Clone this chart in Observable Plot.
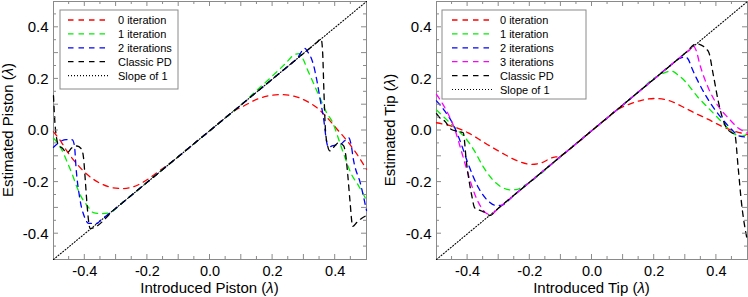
<!DOCTYPE html>
<html><head><meta charset="utf-8">
<script src="https://cdn.jsdelivr.net/npm/d3@7"></script>
<script src="https://cdn.jsdelivr.net/npm/@observablehq/plot@0.6"></script>
<style>
body{margin:0;background:#fff}
#wrap{display:flex;width:748px;height:297px}
svg{font-family:"Liberation Sans",Arial,Helvetica,sans-serif}
</style>
</head><body><div id="wrap"></div>
<script>
// ---- tick values / labels ----
const labelTicks = [-0.4, -0.2, 0, 0.2, 0.4];
const labelTickText = ["-0.4", "-0.2", "0.0", "0.2", "0.4"];
const majorTicks = [-0.4, -0.3, -0.2, -0.1, 0, 0.1, 0.2, 0.3, 0.4];
const minorTicks = [-0.45, -0.35, -0.25, -0.15, -0.05, 0.05, 0.15, 0.25, 0.35, 0.45];

// ---- reference line (slope of 1) ----
const slopeOne = [[-0.5, -0.5], [0.5, 0.5]];

// ---- Piston panel ----
const pistonIter0 = [[-0.5,-0.005],[-0.475,-0.045],[-0.457,-0.08],[-0.425,-0.13],[-0.393,-0.17],[-0.35,-0.205],[-0.31,-0.222],[-0.276,-0.225],[-0.244,-0.218],[-0.2,-0.19],[-0.16,-0.155],[-0.12,-0.12],[-0.06,-0.06],[0,0],[0.06,0.06],[0.08,0.078],[0.108,0.095],[0.14,0.116],[0.182,0.133],[0.225,0.139],[0.268,0.133],[0.31,0.113],[0.342,0.088],[0.374,0.05],[0.406,0.005],[0.438,-0.04],[0.47,-0.093],[0.5,-0.15]];
const pistonIter1 = [[-0.5,-0.03],[-0.48,-0.06],[-0.457,-0.12],[-0.44,-0.17],[-0.425,-0.22],[-0.41,-0.26],[-0.393,-0.29],[-0.373,-0.318],[-0.345,-0.322],[-0.325,-0.32],[-0.308,-0.31],[-0.28,-0.28],[-0.2,-0.2],[-0.1,-0.1],[0,0],[0.1,0.1],[0.15,0.156],[0.2,0.212],[0.24,0.258],[0.27,0.294],[0.285,0.298],[0.3,0.27],[0.31,0.24],[0.33,0.185],[0.35,0.13],[0.37,0.075],[0.394,0.025],[0.41,-0.03],[0.427,-0.09],[0.45,-0.165],[0.475,-0.215],[0.5,-0.27]];
const pistonIter2 = [[-0.5,-0.065],[-0.484,-0.048],[-0.46,-0.035],[-0.44,-0.036],[-0.433,-0.06],[-0.428,-0.144],[-0.415,-0.27],[-0.4,-0.338],[-0.388,-0.36],[-0.361,-0.36],[-0.35,-0.348],[-0.32,-0.32],[-0.2,-0.2],[-0.1,-0.1],[0,0],[0.1,0.1],[0.2,0.2],[0.26,0.26],[0.28,0.282],[0.295,0.31],[0.303,0.318],[0.312,0.305],[0.322,0.285],[0.33,0.257],[0.342,0.19],[0.352,0.12],[0.364,0.037],[0.372,-0.04],[0.378,-0.065],[0.39,-0.06],[0.405,-0.055],[0.417,-0.053],[0.43,-0.04],[0.443,-0.028],[0.45,-0.05],[0.459,-0.118],[0.481,-0.207],[0.5,-0.31]];
const pistonClassic = [[-0.5,0.135],[-0.496,0.04],[-0.49,-0.03],[-0.483,-0.06],[-0.473,-0.067],[-0.457,-0.086],[-0.441,-0.067],[-0.425,-0.06],[-0.41,-0.073],[-0.404,-0.106],[-0.398,-0.2],[-0.392,-0.3],[-0.383,-0.38],[-0.3,-0.3],[-0.2,-0.2],[-0.1,-0.1],[0,0],[0.1,0.1],[0.2,0.2],[0.3,0.3],[0.34,0.34],[0.355,0.355],[0.36,0.3],[0.364,0.15],[0.369,0.0],[0.376,-0.06],[0.383,-0.079],[0.395,-0.065],[0.411,-0.047],[0.427,-0.06],[0.433,-0.09],[0.44,-0.17],[0.447,-0.27],[0.456,-0.372],[0.47,-0.355],[0.485,-0.34],[0.5,-0.33]];

// ---- Tip panel ----
const tipIter0 = [[-0.5,0.03],[-0.452,0.017],[-0.398,-0.009],[-0.345,-0.048],[-0.291,-0.086],[-0.237,-0.119],[-0.195,-0.131],[-0.162,-0.125],[-0.13,-0.106],[-0.1,-0.098],[-0.08,-0.08],[0,0],[0.05,0.05],[0.073,0.074],[0.116,0.1],[0.159,0.117],[0.202,0.124],[0.245,0.117],[0.288,0.094],[0.33,0.068],[0.374,0.043],[0.416,0.017],[0.459,-0.003],[0.5,-0.015]];
const tipIter1 = [[-0.5,0.08],[-0.47,0.045],[-0.44,0.01],[-0.41,-0.025],[-0.38,-0.075],[-0.35,-0.14],[-0.32,-0.19],[-0.29,-0.22],[-0.26,-0.23],[-0.24,-0.228],[-0.22,-0.215],[-0.2,-0.2],[-0.1,-0.1],[0,0],[0.1,0.1],[0.15,0.15],[0.2,0.203],[0.23,0.222],[0.256,0.23],[0.28,0.212],[0.3,0.19],[0.34,0.13],[0.38,0.08],[0.42,0.03],[0.46,-0.015],[0.48,-0.022],[0.5,-0.015]];
const tipIter2 = [[-0.5,0.115],[-0.473,0.075],[-0.441,0.01],[-0.42,-0.054],[-0.398,-0.13],[-0.366,-0.22],[-0.334,-0.273],[-0.31,-0.29],[-0.29,-0.29],[-0.275,-0.278],[-0.25,-0.25],[-0.2,-0.2],[-0.1,-0.1],[0,0],[0.1,0.1],[0.2,0.2],[0.26,0.26],[0.28,0.278],[0.3,0.285],[0.31,0.275],[0.32,0.245],[0.352,0.165],[0.384,0.1],[0.416,0.049],[0.449,0.004],[0.475,-0.022],[0.5,-0.026]];
const tipIter3 = [[-0.5,0.14],[-0.473,0.088],[-0.441,0.004],[-0.42,-0.08],[-0.398,-0.17],[-0.377,-0.247],[-0.355,-0.3],[-0.338,-0.322],[-0.325,-0.325],[-0.3,-0.3],[-0.2,-0.2],[-0.1,-0.1],[0,0],[0.1,0.1],[0.2,0.2],[0.3,0.3],[0.32,0.32],[0.325,0.329],[0.335,0.31],[0.347,0.255],[0.374,0.165],[0.406,0.094],[0.438,0.049],[0.47,0.01],[0.5,-0.009]];
const tipClassic = [[-0.5,0.065],[-0.49,0.05],[-0.473,0.036],[-0.452,0.004],[-0.43,-0.003],[-0.414,-0.009],[-0.404,-0.12],[-0.387,-0.25],[-0.377,-0.3],[-0.355,-0.312],[-0.334,-0.325],[-0.33,-0.33],[-0.3,-0.3],[-0.2,-0.2],[-0.1,-0.1],[0,0],[0.1,0.1],[0.2,0.2],[0.3,0.3],[0.336,0.336],[0.374,0.307],[0.39,0.216],[0.406,0.113],[0.427,0.023],[0.449,-0.009],[0.459,-0.015],[0.47,-0.144],[0.48,-0.273],[0.5,-0.43]];

// ---- legend entries ----
const pistonLegend = ["0 iteration", "1 iteration", "2 iterations", "Classic PD", "Slope of 1"];
const tipLegend = ["0 iteration", "1 iteration", "2 iterations", "3 iterations", "Classic PD", "Slope of 1"];

const DASH = "5.5,5";
const DOT = "1,2";
const FONT = '"Liberation Sans",Arial,Helvetica,sans-serif';

function panel(cfg) {
  const marks = [
    Plot.frame({stroke: "#8a8a8a"}),
    Plot.axisX(labelTicks, {tickSize: 0, tickPadding: 6, label: null, fontSize: 14.5,
      tickFormat: d => labelTickText[labelTicks.indexOf(d)]}),
    Plot.axisY(labelTicks, {tickSize: 0, tickPadding: 5, label: null, fontSize: 15,
      tickFormat: d => labelTickText[labelTicks.indexOf(d)]}),
    Plot.line(slopeOne, {x: d => d[0], y: d => d[1], stroke: "black", strokeWidth: 1.1, strokeDasharray: DOT})
  ];
  cfg.series.forEach(s => {
    marks.push(Plot.line(s.data, {x: d => d[0], y: d => d[1], stroke: s.color, strokeWidth: 1.3,
      strokeDasharray: DASH, curve: "monotone-x"}));
  });
  const svg = Plot.plot({
    width: 374, height: 297,
    marginLeft: cfg.ml, marginRight: cfg.mr, marginTop: 1, marginBottom: 38,
    x: {domain: [-0.5, 0.5]},
    y: {domain: [-0.5, 0.5]},
    style: {fontFamily: FONT, fontSize: "15px", color: "#000", background: "#fff", overflow: "visible"},
    marks
  });
  const sx = svg.scale("x"), sy = svg.scale("y");
  const X0 = sx.apply(-0.5), X1 = sx.apply(0.5), Y0 = sy.apply(-0.5), Y1 = sy.apply(0.5);
  const sel = d3.select(svg);
  const tg = sel.append("g").attr("stroke", "#8a8a8a").attr("stroke-width", 1);
  const allTicks = majorTicks.map(t => [t, 5]).concat(minorTicks.map(t => [t, 3]));
  allTicks.forEach(([t, L]) => {
    const px = sx.apply(t), py = sy.apply(t);
    tg.append("line").attr("x1", px).attr("x2", px).attr("y1", Y0).attr("y2", Y0 - L);
    tg.append("line").attr("x1", px).attr("x2", px).attr("y1", Y1).attr("y2", Y1 + L);
    tg.append("line").attr("y1", py).attr("y2", py).attr("x1", X0).attr("x2", X0 + L);
    tg.append("line").attr("y1", py).attr("y2", py).attr("x1", X1).attr("x2", X1 - L);
  });
  // axis titles
  const xt = sel.append("text").attr("x", (X0 + X1) / 2).attr("y", 293).attr("text-anchor", "middle")
    .attr("font-size", 15).attr("font-family", FONT).attr("fill", "#000");
  xt.append("tspan").text(cfg.xTitle + " (");
  xt.append("tspan").attr("font-style", "italic").text("λ");
  xt.append("tspan").text(")");
  const yt = sel.append("text").attr("transform", `translate(${cfg.yTitleX},${(Y0 + Y1) / 2}) rotate(-90)`)
    .attr("text-anchor", "middle").attr("font-size", 15).attr("font-family", FONT).attr("fill", "#000");
  yt.append("tspan").text(cfg.yTitle + " (");
  yt.append("tspan").attr("font-style", "italic").text("λ");
  yt.append("tspan").text(")");
  // legend
  const lg = sel.append("g").attr("text-anchor", "start");
  const L = cfg.legend;
  lg.append("rect").attr("x", L.x).attr("y", L.y).attr("width", L.w).attr("height", L.h)
    .attr("fill", "#fff").attr("stroke", "#8a8a8a").attr("stroke-width", 1);
  cfg.legendItems.forEach((name, i) => {
    const yy = L.row0 + i * 13.9;
    const isSlope = i === cfg.legendItems.length - 1;
    const color = isSlope ? "black" : cfg.series[i].color;
    lg.append("line").attr("x1", L.lx1).attr("x2", L.lx2).attr("y1", yy).attr("y2", yy)
      .attr("stroke", color).attr("stroke-width", isSlope ? 1.1 : 1.3)
      .attr("stroke-dasharray", isSlope ? DOT : DASH);
    lg.append("text").attr("x", L.tx).attr("y", yy + 4).attr("font-size", 11)
      .attr("text-anchor", "start")
      .attr("font-family", FONT).attr("fill", "#000").text(name);
  });
  return svg;
}

const wrap = document.getElementById("wrap");
wrap.appendChild(panel({
  ml: 53, mr: 8, xTitle: "Introduced Piston", yTitle: "Estimated Piston", yTitleX: 12.5,
  series: [
    {data: pistonIter0, color: "#ff0000"},
    {data: pistonIter1, color: "#00ee00"},
    {data: pistonIter2, color: "#0000ff"},
    {data: pistonClassic, color: "#000000"}
  ],
  legendItems: pistonLegend,
  legend: {x: 60, y: 10, w: 118, h: 79, row0: 20, lx1: 68, lx2: 108, tx: 118}
}));
wrap.appendChild(panel({
  ml: 62, mr: 1, xTitle: "Introduced Tip", yTitle: "Estimated Tip", yTitleX: 21,
  series: [
    {data: tipIter0, color: "#ff0000"},
    {data: tipIter1, color: "#00ee00"},
    {data: tipIter2, color: "#0000ff"},
    {data: tipIter3, color: "#ff00ff"},
    {data: tipClassic, color: "#000000"}
  ],
  legendItems: tipLegend,
  legend: {x: 68, y: 10, w: 144, h: 89, row0: 20, lx1: 78, lx2: 118, tx: 126}
}));
</script>
</body></html>
